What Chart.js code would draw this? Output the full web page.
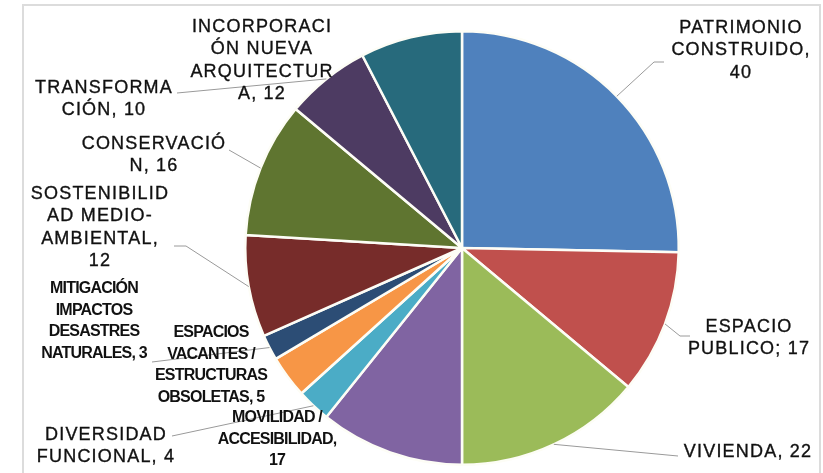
<!DOCTYPE html>
<html>
<head>
<meta charset="utf-8">
<script src="https://cdn.jsdelivr.net/npm/chart.js@4.4.1/dist/chart.umd.min.js"></script>
<style>
    html, body { margin: 0; padding: 0; background: #ffffff; }
    #wrap { width: 823px; height: 473px; position: relative; }
</style>
</head>
<body>
<div id="wrap"><canvas id="pieChart" width="823" height="473"></canvas></div>
<script>

/* ==========================================================
   DATA
========================================================== */

const categories = [
    "PATRIMONIO CONSTRUIDO",
    "ESPACIO PUBLICO",
    "VIVIENDA",
    "MOVILIDAD / ACCESIBILIDAD",
    "DIVERSIDAD FUNCIONAL",
    "ESPACIOS VACANTES / ESTRUCTURAS OBSOLETAS",
    "MITIGACIÓN IMPACTOS DESASTRES NATURALES",
    "SOSTENIBILIDAD MEDIO-AMBIENTAL",
    "CONSERVACIÓN",
    "TRANSFORMACIÓN",
    "INCORPORACIÓN NUEVA ARQUITECTURA"
];

const values = [40, 17, 22, 17, 4, 5, 3, 12, 16, 10, 12];

// label text as it wraps in the picture
const labelLines = [
    ["PATRIMONIO", "CONSTRUIDO,", "40"],
    ["ESPACIO", "PUBLICO; 17"],
    ["VIVIENDA, 22"],
    ["MOVILIDAD /", "ACCESIBILIDAD,", "17"],
    ["DIVERSIDAD", "FUNCIONAL, 4"],
    ["ESPACIOS", "VACANTES /", "ESTRUCTURAS", "OBSOLETAS, 5"],
    ["MITIGACIÓN", "IMPACTOS", "DESASTRES", "NATURALES, 3"],
    ["SOSTENIBILID", "AD MEDIO-", "AMBIENTAL,", "12"],
    ["CONSERVACIÓ", "N, 16"],
    ["TRANSFORMA", "CIÓN, 10"],
    ["INCORPORACI", "ÓN NUEVA", "ARQUITECTUR", "A, 12"]
];

const colors = [
    "#4F81BD", "#C0504D", "#9BBB59", "#8064A2", "#4BACC6", "#F79646",
    "#2C4D75", "#772C2A", "#5F7530", "#4D3B62", "#276A7C"
];

/* ==========================================================
   LABEL LAYOUT (positions only)
   x, y = centre of first line; lead = where the leader line leaves the label
========================================================== */

const labelLayout = [
    { x: 741, y: 28,  small: false, lead: [[664, 62], [654, 62]] },
    { x: 749, y: 327, small: false, lead: [[690, 336], [680, 336]] },
    { x: 748, y: 452, small: false, lead: [[678, 456]] },
    { x: 277, y: 418, small: true,  lead: null },
    { x: 106, y: 435, small: false, lead: [[172, 436]] },
    { x: 211, y: 333, small: true,  lead: null },
    { x: 94,  y: 289, small: true,  lead: [[152, 362]] },
    { x: 100, y: 194, small: false, lead: [[174, 246], [186, 246]] },
    { x: 154, y: 144, small: false, lead: [[229, 150]] },
    { x: 104, y: 88,  small: false, lead: [[177, 93]] },
    { x: 262, y: 27,  small: false, lead: null }
];

/* ==========================================================
   FRAME + LABEL PLUGIN
========================================================== */

const excelLabels = {

    id: "excelLabels",

    beforeDraw(chart) {
        const ctx = chart.ctx;
        ctx.save();
        ctx.strokeStyle = "#dcdcdc";
        ctx.lineWidth = 2;
        ctx.strokeRect(23, 5, 797, 480);
        ctx.restore();
    },

    afterDraw(chart) {

        const ctx = chart.ctx;
        const arcs = chart.getDatasetMeta(0).data;

        ctx.save();

        // leader lines
        ctx.strokeStyle = "#9a9a9a";
        ctx.lineWidth = 1;

        labelLayout.forEach((lay, i) => {

            if (!lay.lead) {
                return;
            }

            const arc = arcs[i];
            const mid = (arc.startAngle + arc.endAngle) / 2;
            const ax = arc.x + Math.cos(mid) * arc.outerRadius;
            const ay = arc.y + Math.sin(mid) * arc.outerRadius;

            ctx.beginPath();
            ctx.moveTo(lay.lead[0][0], lay.lead[0][1]);
            lay.lead.slice(1).forEach(p => ctx.lineTo(p[0], p[1]));
            ctx.lineTo(ax, ay);
            ctx.stroke();

        });

        // label text
        ctx.textAlign = "center";
        ctx.textBaseline = "middle";
        ctx.fillStyle = "#111111";
        ctx.strokeStyle = "#111111";
        ctx.lineWidth = 0.35;

        labelLayout.forEach((lay, i) => {

            if (lay.small) {
                ctx.font = "bold 16px 'Liberation Sans', Arial, sans-serif";
                ctx.letterSpacing = "-0.8px";
            } else {
                ctx.font = "18px 'Liberation Sans', Arial, sans-serif";
                ctx.letterSpacing = "1.2px";
            }

            const pitch = lay.small ? 21.5 : 22.5;

            labelLines[i].forEach((line, k) => {
                ctx.fillText(line, lay.x, lay.y + k * pitch);
                if (!lay.small) {
                    ctx.strokeText(line, lay.x, lay.y + k * pitch);
                }
            });

        });

        ctx.restore();

    }

};

/* ==========================================================
   CHART
========================================================== */

new Chart(document.getElementById("pieChart"), {

    type: "pie",

    data: {
        labels: categories,
        datasets: [{
            data: values,
            backgroundColor: colors,
            borderColor: "#fdfdf6",
            borderWidth: 2.5
        }]
    },

    options: {

        responsive: false,
        animation: false,
        devicePixelRatio: 1,

        layout: {
            padding: {
                left: 244,
                right: 143,
                top: 30,
                bottom: 7
            }
        },

        plugins: {
            legend: { display: false },
            tooltip: { enabled: false }
        }

    },

    plugins: [excelLabels]

});

</script>
</body>
</html>
